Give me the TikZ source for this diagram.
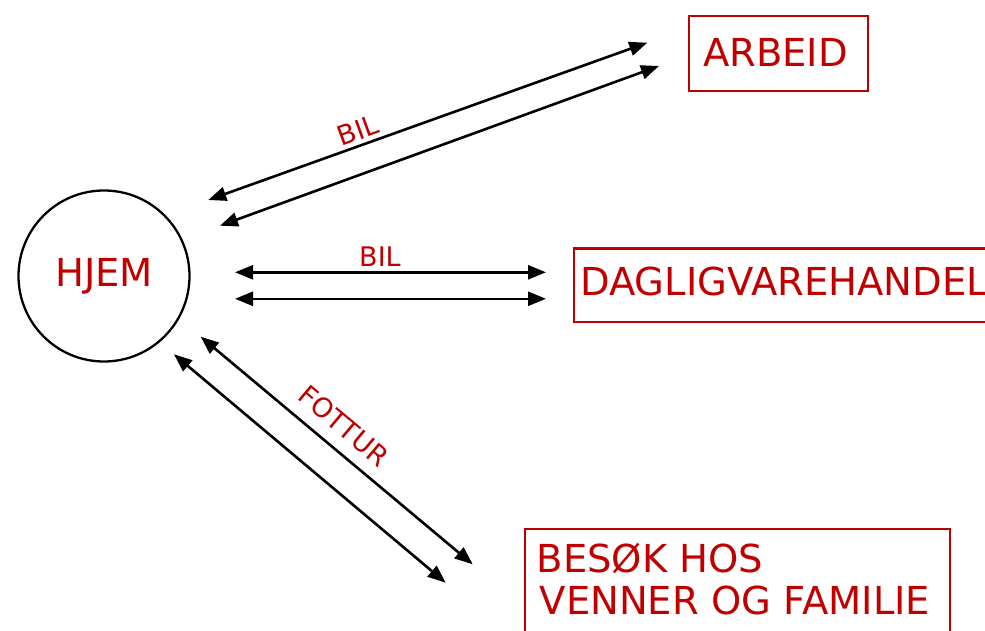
\documentclass[tikz,border=0pt]{standalone}
\usepackage{fontspec}
\setmainfont{DejaVu Sans}
\usetikzlibrary{arrows.meta}
\definecolor{tred}{RGB}{192,0,0}
\tikzset{
  bigtext/.style={font=\fontsize{38.5}{43}\selectfont, text=tred, inner sep=0pt},
  smalltext/.style={font=\fontsize{27}{32}\selectfont, text=tred, inner sep=0pt},
  redbox/.style={draw=tred, line width=2.4pt, inner sep=0pt},
  conn/.style={line width=2.6pt, {Triangle[length=18pt,width=14pt]}-{Triangle[length=18pt,width=14pt]}},
}
\begin{document}
\begin{tikzpicture}[x=1pt,y=-1pt]
\useasboundingbox (0,0) rectangle (985,631);
\clip (0,0) rectangle (985,631);
% nodes
\node[circle, draw, line width=2.3pt, minimum size=171pt, inner sep=0pt] (hjem) at (104,276) {};
\node[bigtext] (hjemtxt) at (104,276) {HJEM};
\node[redbox, minimum width=179pt, minimum height=74.5pt] (arbeid) at (778.2,53.5) {};
\node[bigtext] (arbeidtxt) at (775.5,52.5) {ARBEID};
\node[redbox, minimum width=430pt, minimum height=73.7pt, anchor=west] (dagl) at (572.7,285.2) {};
\node[bigtext, anchor=base west] (dagltxt) at (580,295) {DAGLIGVAREHANDEL};
\node[redbox, minimum width=425pt, minimum height=140pt, anchor=north west] (besok) at (524,527.7) {};
\node[bigtext, anchor=base west] (besoktxt1) at (536.5,572.7) {BESØK HOS};
\node[bigtext, anchor=base west] (besoktxt2) at (539.5,614.3) {VENNER OG FAMILIE};
% arrow end points
\coordinate (a1s) at (208.3,200);
\coordinate (a1e) at (647.3,42.7);
\coordinate (a2s) at (220,225.7);
\coordinate (a2e) at (659,66);
\coordinate (h1s) at (235,272.3);
\coordinate (h1e) at (546,272.3);
\coordinate (h2s) at (235,298.8);
\coordinate (h2e) at (546,298.8);
\coordinate (d1s) at (200.7,336.7);
\coordinate (d1e) at (472.7,564.3);
\coordinate (d2s) at (174,354.3);
\coordinate (d2e) at (445.7,582.7);
% connectors
\draw[conn] (a1s) -- (a1e);
\draw[conn] (a2s) -- (a2e);
\draw[conn] (h1s) -- (h1e);
\draw[conn] (h2s) -- (h2e);
\draw[conn] (d1s) -- (d1e);
\draw[conn] (d2s) -- (d2e);
% labels
\node[smalltext, rotate=20] (bil1) at (358,130.5) {BIL};
\node[smalltext] (bil2) at (380,256.5) {BIL};
\node[smalltext, rotate=-40] (fottur) at (344,426) {FOTTUR};
\end{tikzpicture}
\end{document}
